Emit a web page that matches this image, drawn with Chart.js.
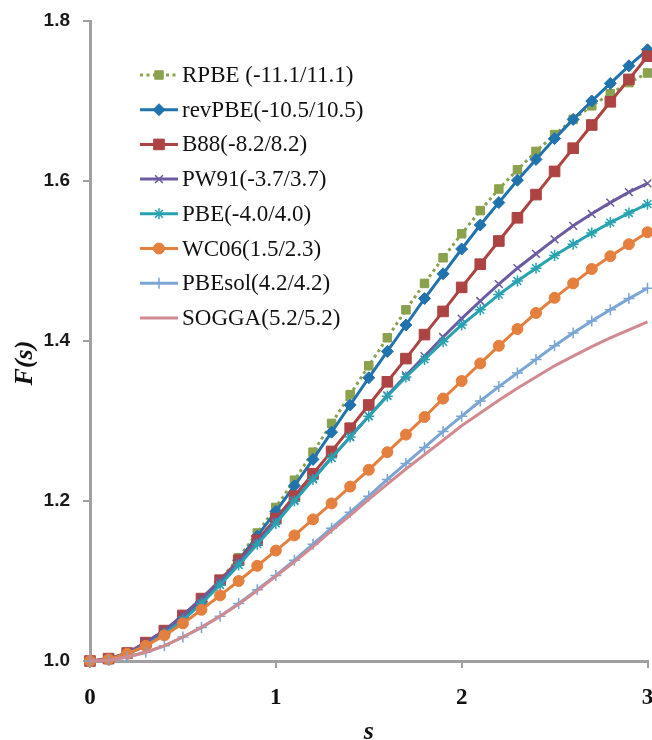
<!DOCTYPE html>
<html lang="en">
<head>
    <meta charset="UTF-8">
    <title>Enhancement factors F(s)</title>
    <style>
        body { margin: 0; background: #fff; overflow: hidden; }
        #wrap { width: 652px; height: 740px; overflow: hidden; }
        canvas { display: block; }
    </style>
</head>
<body>
    <div id="wrap">
        <canvas id="myChart" width="656" height="740"></canvas>
    </div>

    <script src="https://cdn.jsdelivr.net/npm/chart.js"></script>

    <script>
    // reduced gradient s, one point every 0.1
    const sValues = [0, 0.1, 0.2, 0.3, 0.4, 0.5, 0.6, 0.7, 0.8, 0.9, 1.0,
                     1.1, 1.2, 1.3, 1.4, 1.5, 1.6, 1.7, 1.8, 1.9, 2.0,
                     2.1, 2.2, 2.3, 2.4, 2.5, 2.6, 2.7, 2.8, 2.9, 3.0];

    const seriesNames = ['RPBE (-11.1/11.1)', 'revPBE(-10.5/10.5)', 'B88(-8.2/8.2)', 'PW91(-3.7/3.7)',
                         'PBE(-4.0/4.0)', 'WC06(1.5/2.3)', 'PBEsol(4.2/4.2)', 'SOGGA(5.2/5.2)'];

    const rpbe   = [1.000, 1.002, 1.009, 1.020, 1.034, 1.053, 1.075, 1.101, 1.129, 1.160, 1.192,
                    1.226, 1.261, 1.297, 1.333, 1.369, 1.404, 1.439, 1.472, 1.504, 1.534,
                    1.563, 1.590, 1.614, 1.637, 1.658, 1.677, 1.694, 1.709, 1.723, 1.735];
    const revpbe = [1.000, 1.002, 1.009, 1.019, 1.034, 1.053, 1.074, 1.099, 1.126, 1.156, 1.187,
                    1.219, 1.252, 1.286, 1.320, 1.354, 1.387, 1.420, 1.453, 1.484, 1.515,
                    1.545, 1.573, 1.601, 1.627, 1.653, 1.677, 1.700, 1.722, 1.744, 1.764];
    const b88    = [1.000, 1.003, 1.010, 1.023, 1.038, 1.057, 1.078, 1.101, 1.126, 1.151, 1.178,
                    1.206, 1.234, 1.262, 1.291, 1.320, 1.349, 1.378, 1.408, 1.437, 1.467,
                    1.496, 1.525, 1.554, 1.583, 1.612, 1.641, 1.670, 1.699, 1.727, 1.756];
    const pw91   = [1.000, 1.002, 1.010, 1.023, 1.038, 1.057, 1.078, 1.100, 1.124, 1.149, 1.175,
                    1.201, 1.228, 1.254, 1.280, 1.306, 1.332, 1.357, 1.381, 1.405, 1.428,
                    1.450, 1.471, 1.491, 1.509, 1.527, 1.544, 1.559, 1.573, 1.586, 1.597];
    const pbe    = [1.000, 1.002, 1.009, 1.019, 1.034, 1.051, 1.072, 1.095, 1.120, 1.146, 1.172,
                    1.200, 1.227, 1.254, 1.280, 1.306, 1.331, 1.355, 1.377, 1.399, 1.420,
                    1.439, 1.458, 1.475, 1.491, 1.507, 1.521, 1.535, 1.548, 1.560, 1.571];
    const wc06   = [1.000, 1.002, 1.009, 1.019, 1.032, 1.047, 1.064, 1.082, 1.100, 1.119, 1.138,
                    1.157, 1.177, 1.197, 1.218, 1.239, 1.261, 1.283, 1.305, 1.328, 1.350,
                    1.372, 1.394, 1.415, 1.435, 1.454, 1.472, 1.490, 1.506, 1.521, 1.536];
    const pbesol = [1.000, 1.001, 1.005, 1.011, 1.019, 1.030, 1.042, 1.056, 1.072, 1.089, 1.107,
                    1.126, 1.146, 1.166, 1.186, 1.206, 1.227, 1.247, 1.267, 1.287, 1.306,
                    1.325, 1.343, 1.360, 1.377, 1.394, 1.410, 1.425, 1.439, 1.453, 1.466];
    const sogga  = [1.000, 1.001, 1.005, 1.011, 1.019, 1.030, 1.042, 1.056, 1.071, 1.088, 1.106,
                    1.124, 1.143, 1.163, 1.182, 1.202, 1.221, 1.240, 1.258, 1.276, 1.294,
                    1.310, 1.326, 1.341, 1.355, 1.369, 1.381, 1.393, 1.404, 1.414, 1.424];

    const xTicks = [0, 1, 2, 3];
    const yTicks = [1.0, 1.2, 1.4, 1.6, 1.8];

    const allSeries = [rpbe, revpbe, b88, pw91, pbe, wc06, pbesol, sogga];
    const colors = ['#8aa14d', '#2173ae', '#ad4343', '#6c5ba0', '#27a2b1', '#e57f3e', '#7aa5d5', '#d08a90'];
    const markers = ['rect', 'rectRot', 'rect', 'crossRot', 'star', 'circle', 'cross', false];
    const markerSize = [6, 6, 7.5, 5.5, 5.5, 5.5, 5.5, 0];

    const axisGrey = '#a0a0a3';

    function makeDataset(i) {
        const pts = sValues.map((s, k) => ({ x: s, y: allSeries[i][k] }));
        const lineMarker = markers[i] === 'cross' || markers[i] === 'crossRot' || markers[i] === 'star';
        return {
            label: seriesNames[i],
            data: pts,
            borderColor: colors[i],
            backgroundColor: colors[i],
            borderWidth: 3,
            borderDash: i === 0 ? [3, 3.5] : [],
            pointStyle: markers[i],
            pointRadius: markerSize[i],
            pointBackgroundColor: colors[i],
            pointBorderColor: colors[i],
            pointBorderWidth: lineMarker ? 1.5 : 1,
            tension: 0,
            order: allSeries.length - i   // later series on top, like the original
        };
    }

    // legend drawn inside the plot area
    const innerLegend = {
        id: 'innerLegend',
        afterDraw(chart) {
            const ctx = chart.ctx;
            const left = chart.chartArea.left + 50;
            const top = chart.chartArea.top + 54;
            chart.data.datasets.forEach((ds, i) => {
                const y = top + i * 34.7;
                ctx.save();
                ctx.strokeStyle = ds.borderColor;
                ctx.lineWidth = ds.borderWidth;
                ctx.setLineDash(ds.borderDash);
                ctx.beginPath();
                ctx.moveTo(left, y);
                ctx.lineTo(left + 38, y);
                ctx.stroke();
                ctx.setLineDash([]);
                if (ds.pointStyle) {
                    ctx.fillStyle = ds.pointBackgroundColor;
                    ctx.strokeStyle = ds.pointBorderColor;
                    ctx.lineWidth = ds.pointBorderWidth;
                    Chart.helpers.drawPoint(ctx, {
                        pointStyle: ds.pointStyle,
                        radius: ds.pointRadius,
                        borderWidth: ds.pointBorderWidth,
                        rotation: 0
                    }, left + 19, y);
                }
                ctx.fillStyle = '#111';
                ctx.font = '23px "Liberation Serif"';
                ctx.textBaseline = 'middle';
                ctx.fillText(ds.label, left + 42, y + 1);
                ctx.restore();
            });

            // y axis title
            ctx.save();
            ctx.translate(25, 363);
            ctx.rotate(-Math.PI / 2);
            ctx.fillStyle = '#111';
            ctx.font = 'italic bold 26px "Liberation Serif"';
            ctx.textAlign = 'center';
            ctx.textBaseline = 'middle';
            ctx.fillText('F(s)', 0, 0);
            ctx.restore();
        }
    };

    const ctx = document.getElementById('myChart');

    new Chart(ctx, {
        type: 'line',
        data: {
            datasets: allSeries.map((_, i) => makeDataset(i))
        },
        options: {
            responsive: false,
            animation: false,
            events: [],
            clip: false,
            layout: { padding: { top: 21, right: 0, left: 0, bottom: 0 } },
            plugins: {
                legend: { display: false },
                tooltip: { enabled: false }
            },
            scales: {
                x: {
                    type: 'linear',
                    min: 0,
                    max: 3,
                    afterBuildTicks: (axis) => { axis.ticks = xTicks.map(v => ({ value: v })); },
                    afterFit: (axis) => {
                        axis.height = 79;
                        axis.paddingLeft = 0;
                        axis.paddingRight = 0;
                    },
                    border: { color: axisGrey, width: 3 },
                    grid: { drawOnChartArea: false, drawTicks: true, tickLength: 7, color: axisGrey, lineWidth: 2 },
                    ticks: {
                        padding: 16,
                        color: '#111',
                        font: { family: '"Liberation Serif"', size: 23, weight: 'bold' },
                        callback: (v) => v
                    },
                    title: {
                        display: true,
                        text: 's',
                        color: '#111',
                        padding: { top: 0, bottom: 0 },
                        font: { family: '"Liberation Serif"', size: 26, weight: 'bold', style: 'italic', lineHeight: 0.6 }
                    }
                },
                y: {
                    min: 1.0,
                    max: 1.8,
                    afterBuildTicks: (axis) => { axis.ticks = yTicks.map(v => ({ value: v })); },
                    afterFit: (axis) => {
                        axis.width = 90;
                        axis.paddingTop = 0;
                        axis.paddingBottom = 0;
                    },
                    border: { color: axisGrey, width: 3 },
                    grid: { drawOnChartArea: false, drawTicks: true, tickLength: 7, color: axisGrey, lineWidth: 2 },
                    ticks: {
                        padding: 13,
                        color: '#1a1a1a',
                        font: { family: '"Liberation Sans"', size: 19, weight: 'bold' },
                        callback: (v) => v.toFixed(1)
                    }
                }
            }
        },
        plugins: [innerLegend]
    });
    </script>
</body>
</html>
